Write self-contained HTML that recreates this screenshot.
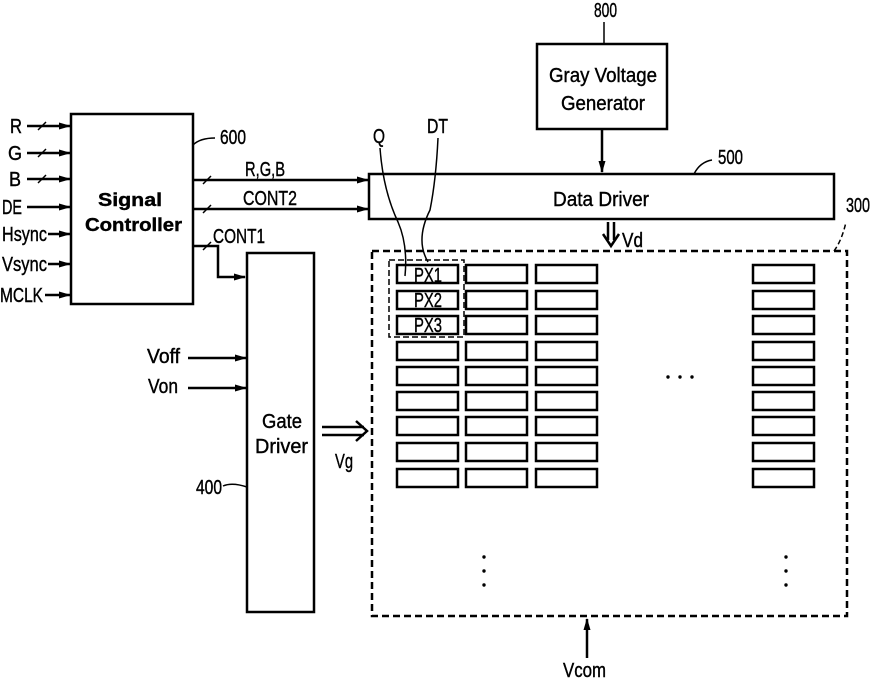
<!DOCTYPE html>
<html><head><style>
html,body{margin:0;padding:0;background:#fff;}
svg{display:block;}
text{font-family:"Liberation Sans",sans-serif;fill:#000;stroke:#000;stroke-width:0.4;}
</style></head><body>
<svg width="872" height="678" viewBox="0 0 872 678" xmlns="http://www.w3.org/2000/svg">
<defs>
<marker id="a" markerWidth="12" markerHeight="9" refX="11" refY="4.5" orient="auto" markerUnits="userSpaceOnUse">
<path d="M0,1 L12,4.5 L0,8 Z" fill="#000"/></marker>
</defs>
<g stroke="#000" stroke-width="2.5" fill="none">
<rect x="71" y="114" width="122" height="190"/>
<line x1="27" y1="126" x2="70" y2="126" marker-end="url(#a)"/>
<line x1="27" y1="153" x2="70" y2="153" marker-end="url(#a)"/>
<line x1="27" y1="179" x2="70" y2="179" marker-end="url(#a)"/>
<line x1="27" y1="207" x2="70" y2="207" marker-end="url(#a)"/>
<line x1="48" y1="234" x2="70" y2="234" marker-end="url(#a)"/>
<line x1="48" y1="264" x2="70" y2="264" marker-end="url(#a)"/>
<line x1="45" y1="295" x2="70" y2="295" marker-end="url(#a)"/>
<g stroke-width="1.5">
<line x1="38" y1="130" x2="46" y2="122"/><line x1="38" y1="157" x2="46" y2="149"/><line x1="38" y1="183" x2="46" y2="175"/>
<line x1="203" y1="184" x2="211" y2="176"/><line x1="203" y1="213" x2="211" y2="205"/><line x1="203" y1="250" x2="211" y2="242"/>
</g>
<line x1="193" y1="180" x2="368" y2="180" marker-end="url(#a)"/>
<line x1="193" y1="209" x2="368" y2="209" marker-end="url(#a)"/>
<polyline points="193,246 218,246 218,277 245,277" marker-end="url(#a)"/>
<path d="M193,145 Q200,138 215,138" stroke-width="1.5"/>
<rect x="247" y="253" width="67" height="359"/>
<line x1="188" y1="358" x2="246" y2="358" marker-end="url(#a)"/>
<line x1="188" y1="388" x2="246" y2="388" marker-end="url(#a)"/>
<path d="M223,486 Q232,482 247,487" stroke-width="1.5"/>
<line x1="322" y1="427" x2="364" y2="427"/><line x1="322" y1="435" x2="364" y2="435"/>
<polyline points="356,421 367,431 356,441"/>
<rect x="369" y="174" width="465" height="45"/>
<path d="M694,174 Q700,162 712,160" stroke-width="1.5"/>
<rect x="537" y="44" width="130" height="85"/>
<line x1="604" y1="22" x2="604" y2="44" stroke-width="1.5"/>
<line x1="602" y1="129" x2="602" y2="172" marker-end="url(#a)"/>
<line x1="608" y1="222" x2="608" y2="240"/><line x1="614" y1="222" x2="614" y2="240"/>
<polyline points="603,234 611,246 619,234"/>
<rect x="372" y="251" width="475" height="365" stroke-dasharray="7,4"/>
<path d="M834,251 Q842,240 846,222" stroke-dasharray="5,3" stroke-width="1.5"/>
<rect x="389" y="260" width="75" height="77" stroke-dasharray="6,3" stroke-width="1.5"/>
<line x1="587" y1="658" x2="587" y2="619" marker-end="url(#a)"/>
<path d="M380,148 Q383,190 398,222 Q408,245 405,276" stroke-width="1.5"/>
<path d="M438,138 Q436,180 430,210 Q415,240 428,262" stroke-width="1.5"/>
</g>
<g stroke="#000" stroke-width="2.5" fill="none">
<g id="col">
<rect x="397" y="265" width="61" height="18"/><rect x="397" y="291" width="61" height="18"/><rect x="397" y="316" width="61" height="18"/>
<rect x="397" y="342" width="61" height="18"/><rect x="397" y="367" width="61" height="18"/><rect x="397" y="392" width="61" height="18"/>
<rect x="397" y="417" width="61" height="18"/><rect x="397" y="443" width="61" height="18"/><rect x="397" y="469" width="61" height="18"/>
</g>
<use href="#col" x="69"/><use href="#col" x="139"/><use href="#col" x="356"/>
</g>
<g fill="#000">
<circle cx="668" cy="377" r="1.7"/><circle cx="680" cy="377" r="1.7"/><circle cx="692" cy="377" r="1.7"/>
<circle cx="484" cy="557" r="1.7"/><circle cx="484" cy="571" r="1.7"/><circle cx="484" cy="585" r="1.7"/>
<circle cx="786" cy="557" r="1.7"/><circle cx="786" cy="571" r="1.7"/><circle cx="786" cy="585" r="1.7"/>
</g>
<g font-size="20">
<text x="10" y="133" textLength="12" lengthAdjust="spacingAndGlyphs">R</text>
<text x="8" y="160" textLength="14" lengthAdjust="spacingAndGlyphs">G</text>
<text x="9" y="186" textLength="12" lengthAdjust="spacingAndGlyphs">B</text>
<text x="2" y="214" textLength="20" lengthAdjust="spacingAndGlyphs">DE</text>
<text x="2" y="241" textLength="45" lengthAdjust="spacingAndGlyphs">Hsync</text>
<text x="2" y="271" textLength="45" lengthAdjust="spacingAndGlyphs">Vsync</text>
<text x="0" y="302" textLength="43" lengthAdjust="spacingAndGlyphs">MCLK</text>
<text x="220" y="144" textLength="26" lengthAdjust="spacingAndGlyphs">600</text>
<text x="245" y="176" textLength="40" lengthAdjust="spacingAndGlyphs">R,G,B</text>
<text x="243" y="205" textLength="54" lengthAdjust="spacingAndGlyphs">CONT2</text>
<text x="213" y="243" textLength="52" lengthAdjust="spacingAndGlyphs">CONT1</text>
<text x="147" y="363" textLength="33" lengthAdjust="spacingAndGlyphs">Voff</text>
<text x="148" y="393" textLength="30" lengthAdjust="spacingAndGlyphs">Von</text>
<text x="262" y="428" textLength="40" lengthAdjust="spacingAndGlyphs">Gate</text>
<text x="255" y="453" textLength="53" lengthAdjust="spacingAndGlyphs">Driver</text>
<text x="196" y="494" textLength="26" lengthAdjust="spacingAndGlyphs">400</text>
<text x="335" y="468" textLength="18" lengthAdjust="spacingAndGlyphs">Vg</text>
<text x="553" y="206" textLength="96" lengthAdjust="spacingAndGlyphs">Data Driver</text>
<text x="549" y="82" textLength="108" lengthAdjust="spacingAndGlyphs">Gray Voltage</text>
<text x="561" y="110" textLength="84" lengthAdjust="spacingAndGlyphs">Generator</text>
<text x="594" y="17" textLength="23" lengthAdjust="spacingAndGlyphs">800</text>
<text x="718" y="164" textLength="25" lengthAdjust="spacingAndGlyphs">500</text>
<text x="846" y="212" textLength="24" lengthAdjust="spacingAndGlyphs">300</text>
<text x="622" y="247" textLength="21" lengthAdjust="spacingAndGlyphs">Vd</text>
<text x="373" y="143" textLength="12" lengthAdjust="spacingAndGlyphs">Q</text>
<text x="427" y="133" textLength="21" lengthAdjust="spacingAndGlyphs">DT</text>
<text x="563" y="677" textLength="43" lengthAdjust="spacingAndGlyphs">Vcom</text>
<text x="414" y="282" textLength="28" lengthAdjust="spacingAndGlyphs">PX1</text>
<text x="414" y="307" textLength="28" lengthAdjust="spacingAndGlyphs">PX2</text>
<text x="414" y="332" textLength="28" lengthAdjust="spacingAndGlyphs">PX3</text>
</g>
<g font-size="18" font-weight="bold">
<text x="98" y="206" textLength="64" lengthAdjust="spacingAndGlyphs">Signal</text>
<text x="85" y="231" textLength="97" lengthAdjust="spacingAndGlyphs">Controller</text>
</g>
</svg>
</body></html>
